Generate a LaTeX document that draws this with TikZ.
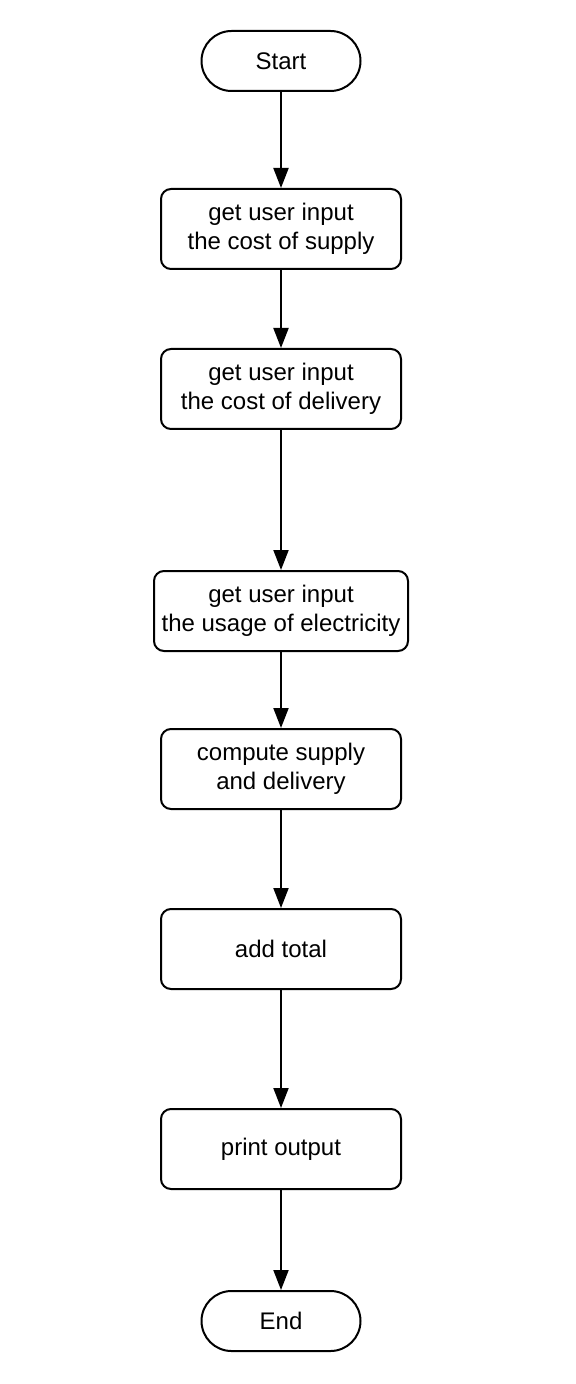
\documentclass[tikz,border=0pt]{standalone}
\usepackage{fontspec}
\setmainfont{Liberation Sans}
\usetikzlibrary{arrows.meta}
\begin{document}
\begin{tikzpicture}[x=0.5pt,y=-0.5pt,
  every node/.style={font=\fontsize{12}{14.4}\selectfont, align=center, inner sep=0pt},
  term/.style={draw, line width=1pt, rounded corners=15pt, minimum width=79.5pt, minimum height=30pt},
  proc/.style={draw, line width=1pt, rounded corners=5pt, minimum width=120pt, minimum height=40pt},
  flow/.style={line width=1pt, -{Triangle[length=10pt,width=7.5pt]}}]
\useasboundingbox (0,0) rectangle (576,1384);
\node[term] (start) at (281,61) {Start};
\node[proc] (b1) at (281,229) {get user input\\the cost of supply};
\node[proc] (b2) at (281,389) {get user input\\the cost of delivery};
\node[proc, minimum width=127pt] (b3) at (281,611) {get user input\\the usage of electricity};
\node[proc] (b4) at (281,769) {compute supply\\and delivery};
\node[proc] (b5) at (281,949) {add total};
\node[proc] (b6) at (281,1149) {print output};
\node[term] (end) at (281,1321) {End};
\draw[flow] (start) -- (b1);
\draw[flow] (b1) -- (b2);
\draw[flow] (b2) -- (b3);
\draw[flow] (b3) -- (b4);
\draw[flow] (b4) -- (b5);
\draw[flow] (b5) -- (b6);
\draw[flow] (b6) -- (end);
\end{tikzpicture}
\end{document}
